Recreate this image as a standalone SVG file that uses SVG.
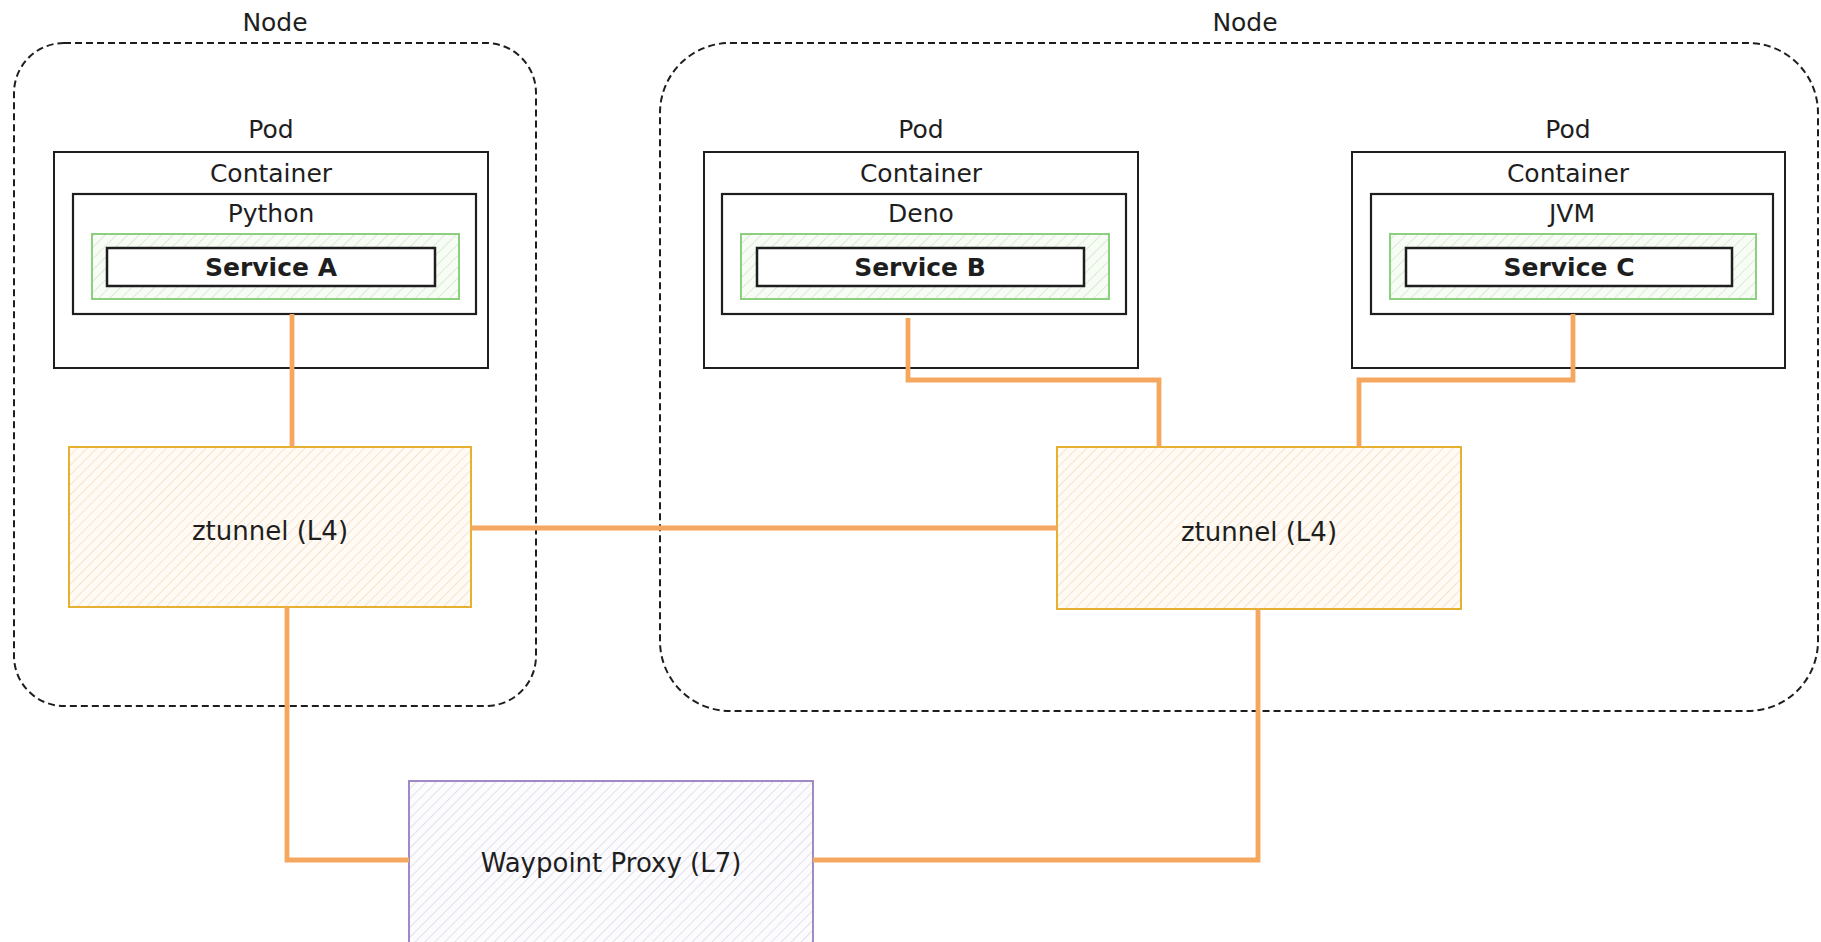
<svg xmlns="http://www.w3.org/2000/svg" width="1821" height="942" viewBox="0 0 1821 942">
<style>
  .lbl { font-family: "DejaVu Sans", "Liberation Sans", sans-serif; font-size: 25px; font-weight: normal; fill: #1e1e1e; text-anchor: middle; }
  .svc { font-family: "DejaVu Sans", "Liberation Sans", sans-serif; font-size: 25px; font-weight: bold; fill: #1e1e1e; text-anchor: middle; }
  .big { font-family: "DejaVu Sans", "Liberation Sans", sans-serif; font-size: 26px; fill: #1e1e1e; text-anchor: middle; }
  .k8node { fill: none; stroke: #1e1e1e; stroke-width: 2; stroke-dasharray: 7 4; }
  .pod { fill: #ffffff; stroke: #1e1e1e; stroke-width: 2; }
  .rt { fill: #ffffff; stroke: #1e1e1e; stroke-width: 2.2; }
  .green { fill: url(#hatchGreen); stroke: #8ccf7e; stroke-width: 2; }
  .svcbox { fill: #ffffff; stroke: #1e1e1e; stroke-width: 2.5; }
  .zt { fill: url(#hatchOrange); stroke: #e6b030; stroke-width: 2; }
  .wp { fill: url(#hatchPurple); stroke: none; }
  .wpb { fill: none; stroke: #a08ac6; stroke-width: 2; }
  .conn { fill: none; stroke: #f6a75f; stroke-width: 4.8; stroke-linejoin: miter; }
</style>
<defs>
  <pattern id="hatchGreen" width="8" height="8" patternUnits="userSpaceOnUse" patternTransform="rotate(45)">
    <rect width="8" height="8" fill="#f7fcf5"/>
    <line x1="0" y1="0" x2="0" y2="8" stroke="#d2e4cd" stroke-width="1.5"/>
  </pattern>
  <pattern id="hatchOrange" width="7" height="7" patternUnits="userSpaceOnUse" patternTransform="rotate(45)">
    <rect width="7" height="7" fill="#fffaf3"/>
    <line x1="0" y1="0" x2="0" y2="7" stroke="#f3dcc4" stroke-width="1.5"/>
  </pattern>
  <pattern id="hatchPurple" width="7" height="7" patternUnits="userSpaceOnUse" patternTransform="rotate(45)">
    <rect width="7" height="7" fill="#fcfbfe"/>
    <line x1="0" y1="0" x2="0" y2="7" stroke="#dcd9e4" stroke-width="1.5"/>
  </pattern>
</defs>
<rect x="0" y="0" width="1821" height="942" fill="#ffffff"/>

<g id="node-left">
  <rect class="k8node" x="14" y="43" width="522" height="663" rx="50"/>
  <text class="lbl" x="275" y="31">Node</text>
</g>
<g id="node-right">
  <rect class="k8node" x="660" y="43" width="1158" height="668" rx="70"/>
  <text class="lbl" x="1245" y="31">Node</text>
</g>

<g id="pod-a">
  <text class="lbl" x="271" y="138">Pod</text>
  <rect class="pod" x="54" y="152" width="434" height="216"/>
  <text class="lbl" x="271" y="182">Container</text>
  <rect class="rt" x="73" y="194" width="403" height="120"/>
  <text class="lbl" x="271" y="222">Python</text>
  <rect class="green" x="92" y="234" width="367" height="65"/>
  <rect class="svcbox" x="107" y="248" width="328" height="38"/>
  <text class="svc" x="271" y="276">Service A</text>
</g>

<g id="pod-b">
  <text class="lbl" x="921" y="138">Pod</text>
  <rect class="pod" x="704" y="152" width="434" height="216"/>
  <text class="lbl" x="921" y="182">Container</text>
  <rect class="rt" x="722" y="194" width="404" height="120"/>
  <text class="lbl" x="921" y="222">Deno</text>
  <rect class="green" x="741" y="234" width="368" height="65"/>
  <rect class="svcbox" x="757" y="248" width="327" height="38"/>
  <text class="svc" x="920" y="276">Service B</text>
</g>

<g id="pod-c">
  <text class="lbl" x="1568" y="138">Pod</text>
  <rect class="pod" x="1352" y="152" width="433" height="216"/>
  <text class="lbl" x="1568" y="182">Container</text>
  <rect class="rt" x="1371" y="194" width="402" height="120"/>
  <text class="lbl" x="1572" y="222">JVM</text>
  <rect class="green" x="1390" y="234" width="366" height="65"/>
  <rect class="svcbox" x="1406" y="248" width="326" height="38"/>
  <text class="svc" x="1569" y="276">Service C</text>
</g>

<g id="ztunnel-left">
  <rect class="zt" x="69" y="447" width="402" height="160"/>
  <text class="big" x="270" y="540">ztunnel (L4)</text>
</g>
<g id="ztunnel-right">
  <rect class="zt" x="1057" y="447" width="404" height="162"/>
  <text class="big" x="1259" y="541">ztunnel (L4)</text>
</g>

<g id="waypoint-proxy">
  <rect class="wp" x="409" y="781" width="404" height="161"/>
  <path class="wpb" d="M409 942 V781 H813 V942"/>
  <text class="big" x="611" y="872">Waypoint Proxy (L7)</text>
</g>

<g id="connectors">
  <path class="conn" d="M292 314 V447"/>
  <path class="conn" d="M908 318 V380 H1159 V447"/>
  <path class="conn" d="M1573 314 V380 H1359 V447"/>
  <path class="conn" d="M471 528 H1057"/>
  <path class="conn" d="M287 607 V860 H409"/>
  <path class="conn" d="M1258 609 V860 H813"/>
</g>
</svg>
